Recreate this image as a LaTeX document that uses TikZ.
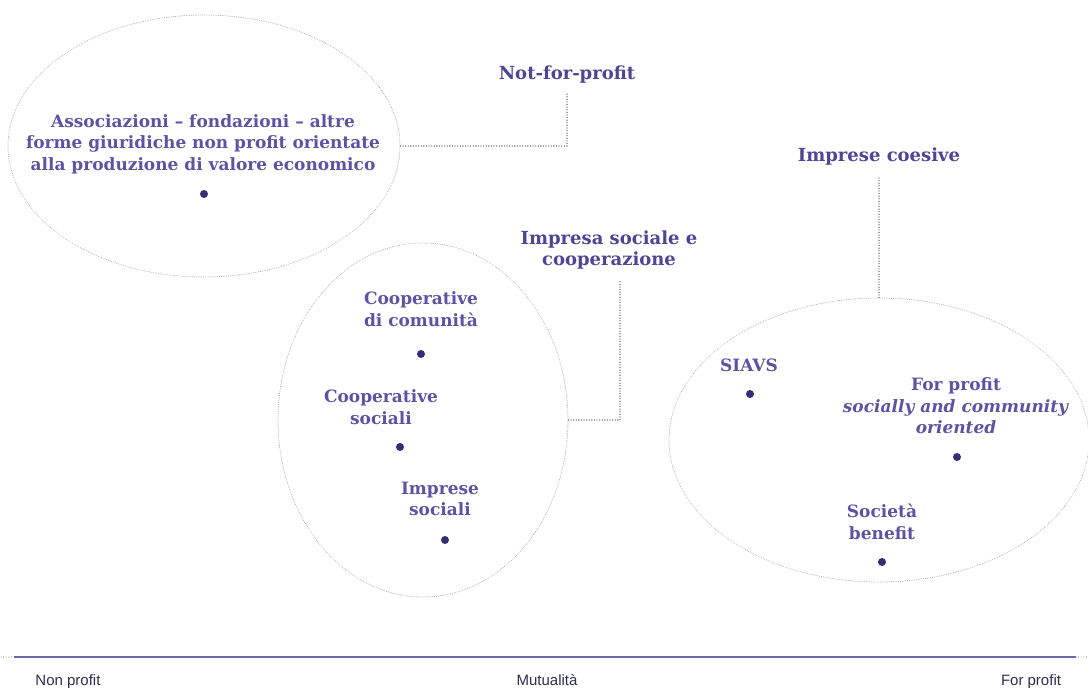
\documentclass[tikz,border=0pt]{standalone}
\usepackage{fontspec}
\setmainfont{DejaVu Serif}
\setsansfont{Liberation Sans}
\usetikzlibrary{shapes.geometric,positioning}

\definecolor{inkblue}{RGB}{92,84,162}
\definecolor{headblue}{RGB}{76,70,148}
\definecolor{dotblue}{RGB}{52,44,118}
\definecolor{ovalgray}{RGB}{155,155,168}
\definecolor{linkgray}{RGB}{60,60,82}
\definecolor{axisblue}{RGB}{104,104,172}
\definecolor{axistext}{RGB}{46,46,78}

\tikzset{
  oval/.style={ellipse,draw=ovalgray,line width=.9pt,dash pattern=on 0pt off 1.8pt,inner sep=0pt},
  lbl/.style={font=\bfseries\fontsize{17}{21.5}\selectfont,text=inkblue,align=center,inner sep=0pt},
  hd/.style={lbl,font=\bfseries\fontsize{18}{21.5}\selectfont,text=headblue},
  pt/.style={circle,fill=dotblue,inner sep=0pt,minimum size=8pt},
  link/.style={draw=linkgray,line width=1.3pt,dash pattern=on 0pt off 2.6pt},
  axlbl/.style={font=\sffamily\fontsize{15}{17}\selectfont,text=axistext,inner sep=0pt,anchor=base}
}

\begin{document}
\begin{tikzpicture}[x=1pt,y=-1pt,line cap=round,line join=round]
\path[use as bounding box] (0,0) rectangle (1088,688);

% non profit
\node[oval,minimum width=392pt,minimum height=262pt] (assoc) at (204,146) {};
\node[lbl] (assoctxt) at (203,144) {Associazioni -- fondazioni -- altre\\forme giuridiche non profit orientate\\alla produzione di valore economico};
\node[pt] (assocpt) at (204,194) {};
\node[hd] (nfp) at (567,75) {Not-for-profit};
\draw[link] (assoc.east) -| ([yshift=-10pt]nfp.south);

% impresa sociale
\node[oval,minimum width=290pt,minimum height=354pt] (coop) at (423,420) {};
\node[lbl] (comtxt) at (421,309) {Cooperative\\di comunità};
\node[pt] (compt) at (421,354) {};
\node[lbl] (soctxt) at (381,407) {Cooperative\\sociali};
\node[pt] (socpt) at (400,447) {};
\node[lbl] (imptxt) at (440,499) {Imprese\\sociali};
\node[pt] (imppt) at (445,540) {};
\node[hd] (isc) at (609,250) {Impresa sociale e\\cooperazione};
\draw[link] (coop.east) -| ([xshift=11pt,yshift=-10pt]isc.south);

% imprese coesive
\node[oval,minimum width=420pt,minimum height=284pt] (coes) at (879,440) {};
\node[lbl] (siavs) at (749,365) {SIAVS};
\node[pt] (siavspt) at (750,394) {};
\node[lbl] (fptxt) at (956,406) {For profit\\\textit{socially and community}\\\textit{oriented}};
\node[pt] (fppt) at (957,457) {};
\node[lbl] (sbtxt) at (882,522) {Società\\benefit};
\node[pt] (sbpt) at (882,562) {};
\node[hd] (ic) at (879,157) {Imprese coesive};
\draw[link] (coes.north) -- ([yshift=-10pt]ic.south);

% asse
\coordinate (edgel) at (1,657);
\coordinate (axl) at (14,657);
\coordinate (axr) at (1076,657);
\coordinate (edger) at (1087,657);
\draw[link,line width=.9pt] (edgel) -- (axl);
\draw[link,line width=.9pt] (axr) -- (edger);
\draw[axisblue,line width=2.2pt,line cap=butt] (axl) -- (axr);
\node[axlbl] (np) at (68,685) {Non profit};
\node[axlbl] (mut) at (547,685) {Mutualità};
\node[axlbl] (fp) at (1031,685) {For profit};
\end{tikzpicture}
\end{document}
